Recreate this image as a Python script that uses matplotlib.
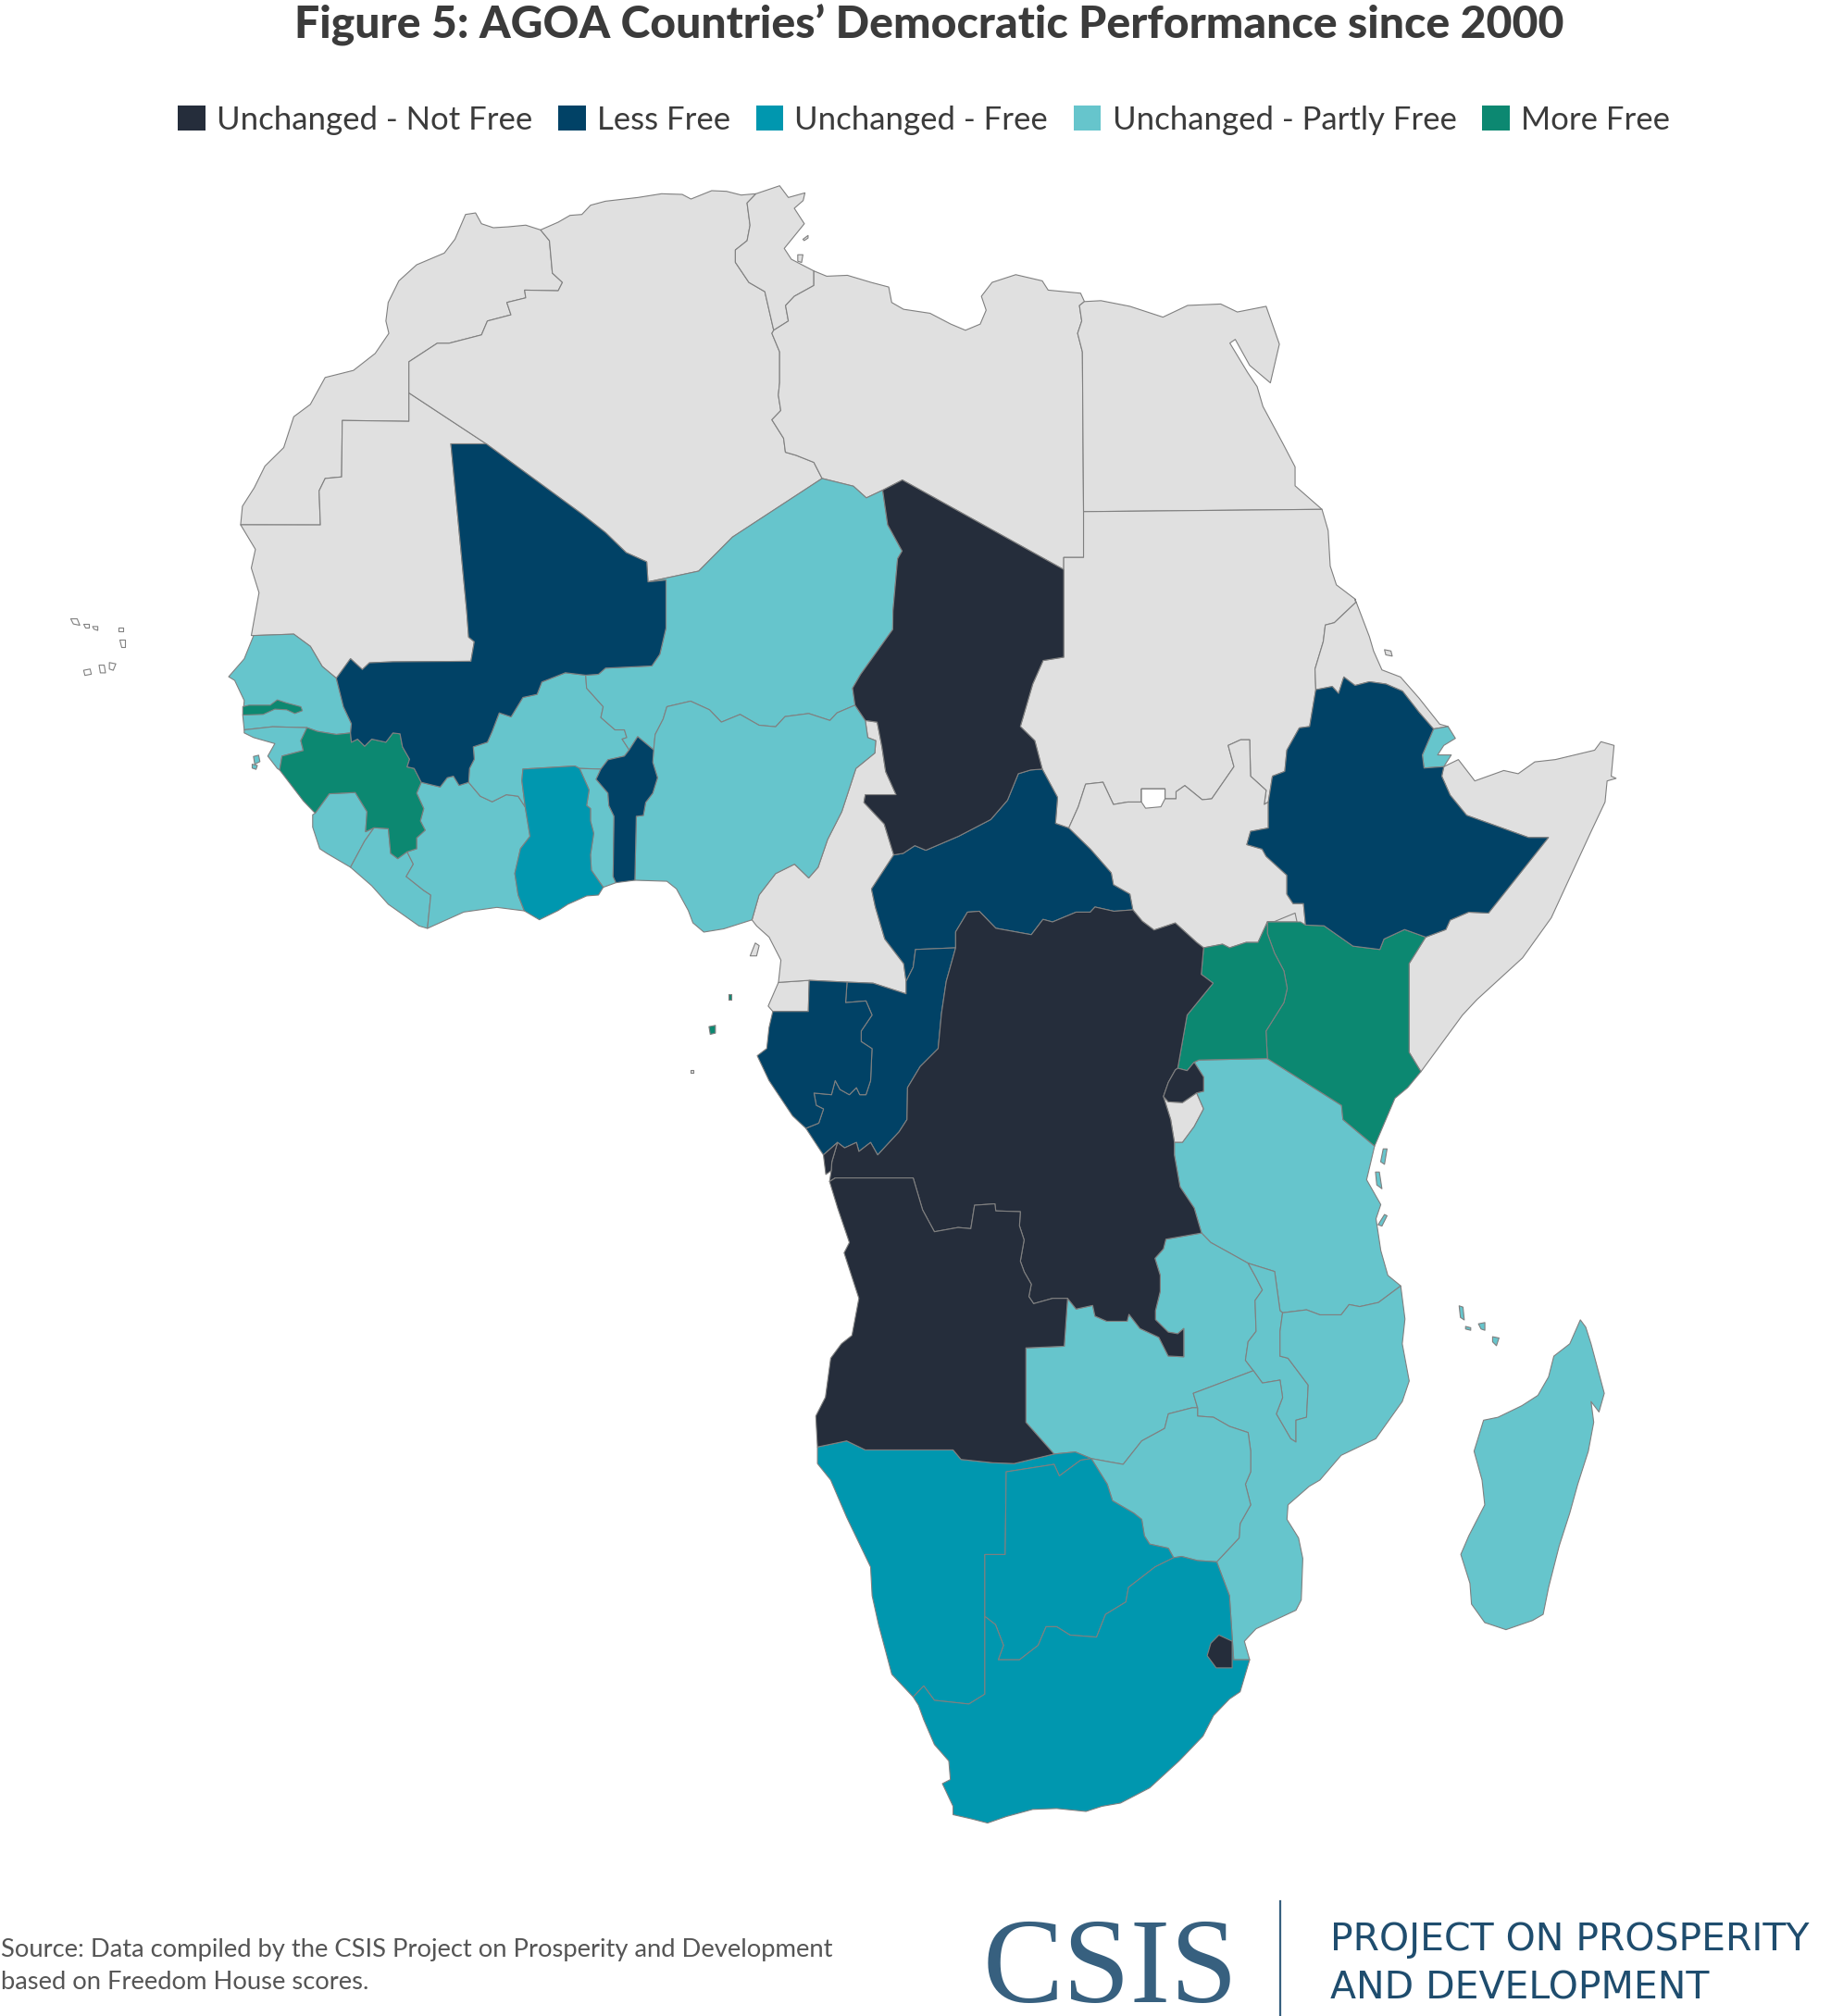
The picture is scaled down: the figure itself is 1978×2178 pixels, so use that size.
"""AGOA countries' democratic performance since 2000, choropleth of Africa."""
import matplotlib

matplotlib.use("Agg")
import matplotlib.pyplot as plt
from matplotlib.patches import Patch

TITLE = "Figure 5: AGOA Countries\u2019 Democratic Performance since 2000"
SOURCE = ["Source: Data compiled by the CSIS Project on Prosperity and Development",
          "based on Freedom House scores."]
LEGEND_LABELS = ["Unchanged - Not Free", "Less Free", "Unchanged - Free",
                 "Unchanged - Partly Free", "More Free"]

NOT_FREE_COLOR = "#252d3b"
LESS_FREE_COLOR = "#014266"
FREE_COLOR = "#0097af"
PARTLY_FREE_COLOR = "#66c5cc"
MORE_FREE_COLOR = "#0c8871"
NON_AGOA_COLOR = "#e0e0e0"
BORDER_COLOR = "#808080"
LOGO_COLOR = "#37607f"

# shared borders, map units
MAU_MALI = [(261.4, 527.2), (272.4, 512), (281.6, 520.4), (287.1, 515.2), (305.4, 514.4), (366, 514),
            (368.6, 498.8), (364.2, 495.2), (362.7, 475), (350.4, 345), (377.9, 345)]
ALG_MALI = [(377.9, 345), (452.2, 399.5), (470.5, 413.9), (486.6, 429.5), (502.6, 436.7), (503.6, 452.3)]
MALI_NIGER = [(503.6, 452.3), (517.6, 450.9), (517.6, 488.1), (512.8, 508.5), (506.6, 517.6), (470.6, 519.3),
              (465.1, 524.1), (455.2, 524.8)]
MALI_BURKINA = [(455.2, 524.8), (439.4, 522.9), (421.1, 530.1), (417.4, 539.7), (406.4, 542.1), (397.2, 557.2),
                (388, 554.1), (382.5, 568.5), (378.8, 576.9), (367.8, 580.5), (368.6, 590.1), (364.9, 597.3),
                (364.2, 608.1)]
MALI_CIV = [(364.2, 608.1), (356.8, 610.5), (352.4, 603.3), (347.6, 604.5), (342.1, 611.7), (327.4, 608.1)]
MALI_GUINEA = [(327.4, 608.1), (321.9, 597.3), (316.4, 596.1), (318.3, 590.1), (312.8, 580.5), (310.9, 570.4),
               (305.4, 569.7), (299.9, 576.9), (288.9, 574.5), (283.4, 580), (277.9, 574.5), (273.1, 576.9),
               (272.4, 569.7)]
MALI_SENEGAL = [(272.4, 569.7), (273.1, 562.5), (266.9, 549.3), (261.4, 527.2)]
SENEGAL_GUINEA = [(272.4, 569.7), (261.4, 570.9), (246.7, 568.5), (238.6, 565.6)]
GUINEA_CIV = [(327.4, 608.1), (323.8, 616.5), (329.3, 628.5), (326.7, 638.1), (330.4, 645.3), (323.8, 651.3),
              (323.8, 659.7), (316.4, 662.1)]
GUINEA_LIBERIA = [(316.4, 662.1), (309.1, 667.4), (303.6, 663.3), (301.8, 644.1), (290.7, 643.4)]
GUINEA_SL = [(290.7, 643.4), (284.1, 646.5), (285.2, 630.9), (276.1, 616), (255.9, 617), (244.9, 632.1)]
GUINEA_GB = [(238.6, 565.6), (233.8, 575.7), (235.7, 583.4), (219.2, 587.7), (217.3, 598.5)]
SL_LIBERIA = [(290.7, 643.4), (283.4, 653.7), (272.4, 674.1)]
LIBERIA_CIV = [(316.4, 662.1), (321.2, 671.7), (315.7, 681.3), (329.3, 692.1), (334.8, 695.7), (332.2, 721.6)]
CIV_BURKINA = [(364.2, 608.1), (373.3, 618.9), (382.5, 623.2), (393.5, 617.7), (402.7, 618.9), (408.2, 627.3)]
CIV_GHANA = [(408.2, 627.3), (411.9, 650.1), (404.5, 659.7), (400.1, 678.9), (402.7, 695.7), (407.5, 708)]
BURKINA_GHANA = [(408.2, 627.3), (405.6, 606.9), (406.4, 597.8), (446.8, 595.4), (450.4, 597.3)]
BURKINA_TOGO = [(450.4, 597.3), (467, 597.8)]
BURKINA_BENIN = [(467, 597.8), (472.5, 590.6), (485.3, 587.7), (489, 582.9)]
BURKINA_NIGER = [(489, 582.9), (483.5, 574.5), (487.1, 573.3), (485.3, 567.3), (478, 567.3), (467, 557.7),
                 (468.8, 549.3), (455.9, 534.9), (455.2, 524.8)]
GHANA_TOGO = [(450.4, 597.3), (457.8, 614), (455.9, 626.1), (458.9, 628.5), (458.9, 638.1), (461.4, 647.7),
              (458.9, 664.5), (459.6, 676.5), (468.8, 689.7)]
TOGO_BENIN = [(467, 597.8), (463.3, 605.7), (472.5, 616.5), (473.2, 626.1), (477.2, 634.5), (476.5, 681.3),
              (478.7, 686.1)]
BENIN_NIGER = [(489, 582.9), (495.6, 572.6), (508, 582.9)]
BENIN_NIGERIA = [(508, 582.9), (507.3, 592.5), (511, 604.5), (507.3, 616.5), (501.8, 623.7), (500, 633.8),
                 (494.5, 634.5), (493.4, 684.2)]
NIGER_NIGERIA = [(508, 582.9), (509.2, 570.9), (515.4, 558.9), (518.3, 549.3), (536.7, 545), (551.4, 551.7),
                 (560.6, 561.3), (575.2, 555.3), (589.9, 563.7), (602.8, 564.9), (610.1, 557), (628.5, 554.6),
                 (645, 560), (650.5, 554.1), (664.5, 548.1)]
NIGER_CHAD = [(664.5, 548.1), (662.6, 534.9), (668.9, 524.1), (683.5, 503.7), (693.8, 489.3), (694, 475),
              (697.6, 434.3), (701.1, 428.3), (689.9, 407.9), (686, 381)]
LIBYA_NIGER = [(686, 381), (673.3, 387), (663.2, 377.9), (638.9, 371.9)]
ALG_NIGER = [(638.9, 371.9), (569.2, 417.5), (543, 443.9), (503.6, 452.3)]
NIGERIA_CAM = [(664.5, 548.1), (672.5, 560), (674.4, 573.3), (680.6, 575.7), (679.9, 585.3), (665.2, 597.3),
               (654.2, 630.9), (643.2, 652.5), (635.8, 674.1), (628.5, 682.4), (617.5, 671.7), (602.8, 679),
               (589.9, 695.7), (584.4, 715)]
CHAD_CAM = [(664.5, 548.1), (672.5, 560), (681.7, 561.3), (685.4, 580.5), (688.3, 599.7), (696.4, 617.7),
            (672.5, 617.7), (671.4, 623.7), (687.2, 640.5), (694.6, 664.5)]
CHAD_CAR = [(694.6, 664.5), (701.9, 663.3), (711, 657.3), (719.5, 660.9), (745, 650), (770, 637), (783, 622),
            (791.4, 601.4), (801, 598.5), (810, 597.8)]
CAM_CAR = [(694.6, 664.5), (677.3, 691), (680.3, 705), (687.6, 729.8), (702.3, 749), (704.2, 762.8)]
CAR_CONGO = [(704.2, 762.8), (709.7, 751.8), (711.5, 738), (742.7, 736.7)]
CAR_DRC = [(742.7, 736.7), (742.7, 724.3), (751.9, 709), (761.1, 708.3), (773.9, 721.5), (801.5, 726.5),
           (810.6, 714.6), (818, 716.6), (836.3, 709), (847.3, 709), (851, 705), (865.7, 708.3), (880.4, 707.2)]
CAR_SSUDAN = [(880.4, 707.2), (878.1, 695), (865.3, 687.7), (863.6, 678.5), (847.6, 660.2), (830.6, 643.6)]
CAR_SUDAN = [(830.6, 643.6), (820.3, 640), (821.9, 619.8), (810, 597.8)]
SUDAN_CHAD = [(810, 597.8), (804.2, 575.7), (793, 564.7), (799.4, 542.7), (802.6, 531.7), (810.7, 513.4),
              (826.7, 510.8), (826.7, 433.3)]
LIBYA_CHAD = [(826.7, 442.7), (701.3, 373.1), (686, 381)]
SUDAN_SSUDAN = [(830.6, 643.6), (838, 627.1), (843.7, 609.5), (857.2, 608), (865.3, 625.3), (876.5, 623.4),
                (887.1, 623.4), (887.1, 613.2), (905.4, 613.2), (905.4, 620.9), (914, 620.9), (914, 615.4),
                (920.8, 610.6), (934.3, 621.6), (941.7, 620.9), (959, 595.9), (954.5, 579.4), (964.2, 575),
                (971.2, 575), (971.9, 603.3), (984, 614.3), (982.5, 625.3), (985.7, 623.4)]
SUDAN_ETH = [(985.7, 623.4), (988.9, 603.3), (998.5, 599.6), (1000.1, 583.1), (1009.8, 565.8), (1017.8, 564.7),
             (1022.6, 536.1)]
SSUDAN_ETH = [(985.7, 623.4), (985.7, 643.6), (971.9, 646.2), (969, 656.5), (980.9, 660), (984, 665.6),
              (1000.1, 680.3), (1000.1, 695), (1004.9, 702.3), (1013, 702.3), (1014.6, 719)]
SSUDAN_DRC = [(880.4, 707.2), (887.7, 716), (896.9, 722.9), (913.4, 717.4), (930, 732.5), (935.4, 736.7)]
UGANDA_SSUDAN = [(935.4, 736.7), (950.1, 733.9), (955.6, 736.7), (968.5, 732.5), (977.7, 732.5), (985, 716.6)]
KENYA_ETH = [(1014.6, 719), (1029, 719.6), (1051.5, 735.4), (1072.4, 738), (1075.6, 729.9), (1091.6, 722.5),
             (1108, 728.4)]
ETH_SOMALIA = [(1108, 728.4), (1123.7, 722.5), (1127, 715.2), (1141.4, 709), (1156.8, 709.7), (1203.4, 651),
               (1188, 651), (1139.8, 633.7), (1127, 618), (1120.5, 603.3), (1122.1, 595.9)]
ERITREA_ETH = [(1022.6, 536.1), (1035.4, 533.6), (1040.3, 539), (1044.4, 526.2), (1053.1, 532.8), (1064.3, 529.9),
               (1077.2, 531.7), (1090, 537.2), (1102.9, 553.7), (1114.1, 566.6)]
ETH_DJIBOUTI = [(1114.1, 566.6), (1105.4, 586.8), (1106.7, 597), (1122.1, 595.9)]
KENYA_UGANDA = [(985, 716.6), (985, 725.6), (990.5, 740.8), (997.8, 754.6), (1000.4, 768.3), (997.8, 779.3),
                (983.9, 801.4), (985, 822.8)]
KENYA_TANZANIA = [(985, 822.8), (1042.6, 859.2), (1043.7, 870.2), (1068.3, 890.8)]
UGANDA_DRC = [(935.4, 736.7), (933.6, 757.3), (942.8, 764.2), (922.6, 789), (915.3, 830.3)]
RWANDA_DRC = [(915.3, 830.3), (913.4, 831.7), (908, 841.3), (904.2, 852.3)]
BURUNDI_DRC = [(904.2, 852.3), (909.8, 870.2), (912.7, 888)]
TANZANIA_DRC = [(912.7, 888), (912.7, 897.7), (917.1, 922.5), (928.1, 939), (933.8, 958.4)]
TANZANIA_ZAMBIA = [(933.8, 958.4), (941, 965.8), (955.5, 973.8), (970, 981.9)]
TANZANIA_MALAWI = [(970, 981.9), (990.6, 988.3), (994.8, 1018.8), (996.8, 1020.4)]
TANZANIA_MOZ = [(996.8, 1020.4), (1015.4, 1018.1), (1025.8, 1022), (1042.3, 1022), (1048.5, 1014), (1056.7, 1015.6),
                (1071.3, 1012.4), (1088.6, 999.5)]
DRC_ZAMBIA = [(933.8, 958.4), (906.1, 963.2), (904.2, 970.7), (897.6, 978.1), (901.7, 991.3), (901.7, 1003.7),
              (898, 1018.8), (898, 1025.7), (907.9, 1035.4), (915.3, 1036.7), (920, 1032.6), (920, 1054.6),
              (907.9, 1054), (900.6, 1039.5), (885.9, 1032.6), (877.4, 1021.6), (876, 1027), (860.2, 1027),
              (851, 1023), (849.2, 1014.7), (836.3, 1017.5), (829.7, 1009.2)]
DRC_ANGOLA = [(829.7, 1009.2), (818, 1009.2), (803.3, 1013.3), (799.6, 1007.8), (801.5, 998.2), (796, 988.6),
              (793, 980.3), (795.9, 963.8), (792.3, 952.8), (793, 941.8), (773.9, 941.2), (773.2, 935.7),
              (757.4, 936.8), (754.5, 955), (744.6, 954.1), (726.2, 957.4), (717, 940.4), (709.7, 915.6),
              (649.1, 915.6), (644.7, 918.4)]
CONGO_DRC = [(646.5, 903), (650.9, 888), (656.4, 892.2), (665.6, 888), (667.5, 895), (676.6, 888), (682.1, 897.7),
             (698.7, 879.8), (704.9, 870.2), (705.3, 845.4), (715.2, 828.9), (729.1, 815), (731.7, 787.6),
             (735.4, 762.8), (742.7, 736.7)]
GABON_CONGO = [(658.3, 763.4), (657.2, 779.3), (673, 778), (677.7, 789), (669.3, 801.4), (669.3, 809.6),
               (677.7, 815.1), (676.6, 839.9), (673, 850.9), (668.2, 850.9), (665.6, 845.4), (660.1, 850.9),
               (652.8, 846.8), (649.1, 839.9), (646.2, 850.9), (632.6, 849.6), (634.4, 859.2), (640, 862),
               (636.3, 873), (626.3, 877)]
CAM_CONGO = [(704.2, 762.8), (704.2, 772.5), (678.5, 764.2), (658.3, 763.4)]
ZAMBIA_MALAWI = [(970, 981.9), (976.2, 993.1), (981.1, 1002.7), (975.4, 1010.8), (976.2, 1034.8), (970, 1042.9),
                 (967.9, 1057.3), (974.1, 1065.4)]
ZAMBIA_MOZ = [(974.1, 1065.4), (927.4, 1083), (930.7, 1094.2)]
ZAMBIA_ZIM = [(930.7, 1094.2), (926.6, 1094.2), (908, 1099), (905.1, 1110.3), (887.3, 1120), (872.9, 1138.2),
              (860.5, 1136), (848.1, 1133.7)]
ZIM_MOZ = [(930.7, 1094.2), (930.7, 1100.7), (943.1, 1101.6), (955.5, 1108.7), (970, 1113.5), (972, 1128),
           (972, 1144), (967.9, 1153.6), (972, 1169.7), (963.8, 1184.2), (963, 1195.4), (945.6, 1214)]
ZIM_BOTSWANA = [(848.1, 1133.7), (860.5, 1153.6), (864.6, 1166.5), (881.1, 1176.1), (887.3, 1181), (889.4, 1193.8),
                (893.5, 1200.2), (908, 1203.4), (912.1, 1210.8)]
ZIM_SA = [(912.1, 1210.8), (918.3, 1209.8), (930.7, 1213), (945.6, 1214)]
MALAWI_MOZ = [(974.1, 1065.4), (981.1, 1075), (994.8, 1072.7), (996.8, 1086.2), (991.9, 1099), (1003.1, 1118.3),
              (1007.2, 1120.9), (1007.2, 1103.9), (1015.4, 1101.6), (1016.7, 1076.6), (1001, 1055.7),
              (994.8, 1054.1), (994.8, 1034.8), (996.8, 1020.4)]
BOTSWANA_SA = [(912.1, 1210.8), (897.7, 1217.9), (877, 1233.9), (875, 1245.2), (859.2, 1254.8), (852.2, 1272.5),
               (831.6, 1270.9), (821.2, 1264.4), (813, 1264.4), (806.8, 1278.9), (792.3, 1290.1), (775.8, 1290.1),
               (779.9, 1278.9), (773.7, 1262.8), (765.4, 1256.4)]
BOTSWANA_NAMIBIA = [(765.4, 1256.4), (765.4, 1208.3), (781.2, 1208.3), (782, 1144), (819.2, 1138.2),
                    (823.3, 1147.2), (839.8, 1135), (848.1, 1133.7)]
NAMIBIA_ANGOLA = [(635.3, 1124.7), (658, 1120), (672.5, 1127), (740.7, 1127), (746.9, 1134.4), (771.6, 1137),
                  (788.2, 1137.6), (819.2, 1130.2)]
NAMIBIA_ZAMBIA = [(819.2, 1130.2), (835.7, 1128.6), (848.1, 1133.7)]
ANGOLA_ZAMBIA = [(819.2, 1130.2), (797.3, 1105.5), (797.3, 1047.7), (827.1, 1046.4), (829.7, 1009.2)]
NAMIBIA_SA = [(765.4, 1256.4), (765.4, 1316.8), (753, 1324.5), (726.2, 1321.6), (717.9, 1310.4), (709.7, 1319)]
SA_MOZ = [(945.6, 1214), (955.5, 1240.3), (957.6, 1272.5), (958.8, 1290.1), (971.2, 1290.1)]
MOROCCO_ALG = [(317.8, 281.2), (339.8, 266.8), (349, 266.8), (374.2, 260.3), (378.8, 249.5), (397.1, 244.7),
               (393.9, 235.1), (408.6, 231.5), (407.7, 225.5), (433.8, 226), (437.1, 219.5), (429.3, 212.3),
               (427, 187.1), (420.1, 178.7)]
ALG_TUNISIA = [(587.5, 150.6), (580.6, 157.8), (582.9, 175.1), (580.6, 187.1), (571.5, 194.3), (571.5, 203.9),
               (582, 219.5), (594.4, 226.7), (601.3, 256.7)]
ALG_LIBYA = [(601.3, 256.7), (599.9, 259.1), (605.9, 273.5), (605.9, 297.5), (604.9, 307.1), (606.8, 319.1),
             (599.9, 326.3), (609, 340.7), (610.4, 351.5), (618.7, 353.9), (632.5, 359.4), (638.9, 371.9)]
TUNISIA_LIBYA = [(632.5, 210.6), (632.5, 221.9), (617.3, 230.3), (610.5, 237.5), (612.7, 249.5), (601.3, 256.7)]
LIBYA_EGYPT = [(842.8, 234.4), (838.9, 237.5), (840.7, 249.5), (837.5, 259.1), (841.2, 273.5), (842.1, 397.7)]
LIBYA_SUDAN = [(842.1, 397.7), (842.1, 433.3), (826.7, 433.3), (826.7, 442.7)]
SUDAN_ERITREA = [(1053.7, 468.2), (1037, 484), (1030, 485.8), (1028.4, 498.7), (1022, 520), (1022.6, 536.1)]

# country outlines, map units
MOROCCO = [(369.6, 165.5), (361.8, 166.7), (353.6, 185.9), (345.3, 196.7), (323.8, 205.8), (310, 218.3),
           (301.7, 235.1), (299.9, 249.5), (302.2, 259.1), (291.6, 274.7), (274.7, 287.9), (252.7, 293.4),
           (241.2, 314.3), (228.3, 323.9), (220.5, 347.9), (205.9, 362.3), (197.6, 379.1), (188.4, 393.5),
           (187, 407.9), (249, 408), (248, 381.5), (252.7, 371.9), (265.5, 370.7), (266, 326.8), (317.8, 327.5)] \
    + MOROCCO_ALG + [(408.6, 175), (394.9, 176.3), (383.4, 177), (374.2, 173.9)]
MAURITANIA = [(187, 407.9), (198.5, 427), (195.3, 441.5), (201.3, 460.7), (195.3, 494), (197.1, 494),
              (228.3, 492.9), (241.2, 502.4), (250.4, 518)] + MAU_MALI \
    + [(317.8, 305.4), (317.8, 327.5), (266, 326.8), (265.5, 370.7), (252.7, 371.9), (248, 381.5), (249, 408)]
ALGERIA = MOROCCO_ALG + [(433.8, 172.7), (443, 167.4), (452.2, 166.7), (459, 159.5), (470.5, 156.4), (495.8, 153.5),
                         (514.1, 150.6), (530.2, 151.1), (537, 154.7), (553.1, 148.2), (564.6, 148.7), (576, 151.6)] \
    + ALG_TUNISIA + ALG_LIBYA + ALG_NIGER + ALG_MALI[::-1] + [(317.8, 305.4)]
TUNISIA = [(587.5, 150.6), (605.9, 144.4), (612.7, 153.5), (625.6, 149.9), (624.2, 155.9), (617.3, 161.9),
           (625.1, 173.9), (609.5, 193.1), (615, 201.5), (624.2, 206.3)] + TUNISIA_LIBYA + ALG_TUNISIA[::-1]
LIBYA = TUNISIA_LIBYA[::-1] + [(642.5, 214.7), (658.6, 214), (677, 219.5), (690.7, 223.1), (693, 235.1),
                               (702.2, 240.4), (722.8, 243.5), (738.9, 251.9), (750.3, 256.7), (761.8, 251.9),
                               (766.4, 241.1), (762.7, 230.3), (771, 219.5), (789.4, 213.5), (810, 218.3),
                               (814.6, 225.5), (839.8, 227.9)] \
    + LIBYA_EGYPT + LIBYA_SUDAN + LIBYA_CHAD + LIBYA_NIGER + ALG_LIBYA[::-1]
EGYPT = [(842.8, 234.4), (855.6, 233.7), (878.1, 238.1), (903.8, 246.5), (923, 237.4), (948.7, 236.3), (961.6, 242.5),
         (984, 238.1), (994.3, 267.5), (987.3, 297.6), (971.2, 284), (960, 263.8), (955.8, 266.7), (969.6, 289.5),
         (977, 300.5), (981.5, 315.9), (996.9, 344.5), (1006.5, 362.9), (1006.5, 377.6), (1027.4, 395.9),
         (842.1, 397.7)] + LIBYA_EGYPT[::-1]
SUDAN = [(842.1, 397.7), (1027.4, 395.9), (1032.2, 412.4), (1033.8, 440), (1038.6, 454.6), (1053.1, 465.6)] \
    + SUDAN_ERITREA + SUDAN_ETH[::-1] + SUDAN_SSUDAN[::-1] + CAR_SUDAN + SUDAN_CHAD + [(842.1, 433.3)]
ABYEI = [(887.1, 613.2), (905.4, 613.2), (905.4, 620.9), (902.2, 627.1), (890.3, 628.2), (887.1, 623.4)]
SOUTH_SUDAN = SUDAN_SSUDAN + SSUDAN_ETH + [(990.5, 716.3), (985, 716.6)] + UGANDA_SSUDAN[::-1] \
    + SSUDAN_DRC[::-1] + CAR_SSUDAN
ILEMI = [(985, 716.6), (990.5, 716.3), (1006.5, 709.7), (1008, 716.6)]
ERITREA = [(1053.1, 465.6), (1064.3, 495), (1067.5, 506), (1074, 520.7), (1088.4, 526.2), (1102.9, 542.7),
           (1118.9, 562.9), (1125.4, 564.7), (1114.1, 566.6)] + ERITREA_ETH[::-1] + SUDAN_ERITREA[::-1]
ETHIOPIA = ERITREA_ETH + ETH_DJIBOUTI + ETH_SOMALIA[::-1] + KENYA_ETH[::-1] + SSUDAN_ETH[::-1] + SUDAN_ETH
DJIBOUTI = [(1114.1, 566.6), (1125.4, 564.7), (1131.1, 573.9), (1122.1, 579.4), (1117.3, 586.8), (1127.9, 586.8),
            (1122.1, 595.9), (1106.7, 597), (1105.4, 586.8)]
SOMALIA = [(1122.1, 595.9), (1133.4, 590.4), (1146.2, 607), (1168.7, 598.9), (1179.9, 601.4), (1192.8, 592.2),
           (1208.8, 590.4), (1239.3, 583.1), (1244.2, 576.5), (1254.4, 579.4), (1252.2, 603.3), (1256, 605),
           (1249, 607), (1247.4, 623.4), (1236.1, 647.3), (1221.7, 678.5), (1205.6, 713.4), (1183.2, 744.6),
           (1147.8, 777), (1136.6, 789), (1104.3, 833), (1095.1, 817.9), (1095.1, 749), (1108, 728.4)] \
    + ETH_SOMALIA
KENYA = [(985, 716.6), (1010.7, 716.6)] + KENYA_ETH + [(1095.1, 749), (1095.1, 817.9), (1104.3, 833), (1094, 845.4),
                                                       (1084.1, 853.7)] \
    + KENYA_TANZANIA[::-1] + KENYA_UGANDA[::-1]
UGANDA = UGANDA_SSUDAN + KENYA_UGANDA + [(931.8, 823.9), (928.1, 825.6), (922.6, 832.2), (915.3, 830.3)] \
    + UGANDA_DRC[::-1]
RWANDA = [(928.1, 825.6), (935.4, 837.1), (935.4, 848.2), (930, 849.5), (919, 857), (907.9, 856.4)] \
    + RWANDA_DRC[::-1] + [(922.6, 832.2)]
BURUNDI = [(907.9, 856.4), (919, 857), (930, 849.5), (935.4, 861.9), (928.1, 875.7), (919, 888)] + BURUNDI_DRC[::-1]
TANZANIA = [(931.8, 823.9)] + KENYA_TANZANIA + [(1062.1, 917), (1073.1, 936.3), (1069.4, 947.3), (1073.1, 972),
                                                (1078.6, 991.3), (1088.6, 999.5)] \
    + TANZANIA_MOZ[::-1] + TANZANIA_MALAWI[::-1] + TANZANIA_ZAMBIA[::-1] + TANZANIA_DRC[::-1] \
    + [(919, 888), (928.1, 875.7), (935.4, 861.9), (930, 849.5), (935.4, 848.2), (935.4, 837.1), (928.1, 825.6)]
DRC = CONGO_DRC + CAR_DRC[1:] + SSUDAN_DRC + UGANDA_DRC + RWANDA_DRC + BURUNDI_DRC + TANZANIA_DRC + DRC_ZAMBIA \
    + DRC_ANGOLA + [(646, 910)]
CABINDA = [(639.9, 897.7), (650.9, 888), (646.5, 903), (646, 910), (641.8, 912.9)]
ANGOLA = DRC_ANGOLA + [(651, 939), (660.1, 965.8), (656, 973.8), (667.5, 1009.2), (662.1, 1038), (653.9, 1044.5),
                       (645.6, 1055.7), (641.5, 1086), (634, 1100.7)] \
    + NAMIBIA_ANGOLA + ANGOLA_ZAMBIA
CONGO = CAM_CONGO + GABON_CONGO + [(639.9, 897.7)] + CONGO_DRC[1:] + CAR_CONGO[::-1]
GABON = [(628.9, 762)] + GABON_CONGO + [(616, 867.4), (597.7, 840), (588.5, 820.6), (595.9, 815), (597.7, 798.6),
                                        (600.6, 786.2), (628.2, 786.2)]
EQ_GUINEA = [(605, 763.6), (628.9, 762), (628.2, 786.2), (600.6, 786.2), (597, 782)]
CAMEROON = CHAD_CAM + CAM_CAR + CAM_CONGO[1:] + [(628.9, 762), (605, 763.6), (606.9, 746.3), (597.7, 728.4),
                                                 (588, 719.7), (584.4, 715)] + NIGERIA_CAM[::-1]
CAR = CAM_CAR + CAR_CONGO[1:] + CAR_DRC[1:] + CAR_SSUDAN + CAR_SUDAN[1:] + CHAD_CAR[::-1]
CHAD = NIGER_CHAD + LIBYA_CHAD[::-1] + SUDAN_CHAD[::-1][1:-1] + CHAD_CAR[::-1] + CHAD_CAM[::-1]
NIGER = ALG_NIGER + MALI_NIGER + BURKINA_NIGER[::-1] + BENIN_NIGER + NIGER_NIGERIA + NIGER_CHAD + LIBYA_NIGER
NIGERIA = NIGER_NIGERIA + NIGERIA_CAM + [(562.4, 722), (547, 724.5), (538.5, 717.3), (534.9, 707.7), (525.7, 690.9),
                                         (518.3, 685)] + BENIN_NIGERIA[::-1]
MALI = MAU_MALI + ALG_MALI + MALI_NIGER + MALI_BURKINA + MALI_CIV + MALI_GUINEA + MALI_SENEGAL
BURKINA = MALI_BURKINA + CIV_BURKINA + BURKINA_GHANA + BURKINA_TOGO + BURKINA_BENIN + BURKINA_NIGER
BENIN = BENIN_NIGER + BENIN_NIGERIA + TOGO_BENIN[::-1] + BURKINA_BENIN
TOGO = GHANA_TOGO + [(478.7, 686.1)] + TOGO_BENIN[::-1] + [(450.4, 597.3)]
GHANA = BURKINA_GHANA + GHANA_TOGO[1:] + [(465.1, 695.7), (455.9, 696.4), (441.3, 702.9), (433.9, 707.7),
                                          (419.2, 714.9)] + CIV_GHANA[::-1]
COTE_DIVOIRE = GUINEA_CIV + LIBERIA_CIV + [(360.5, 708.9), (386.2, 705.3), (407.5, 708)] + CIV_GHANA[::-1] \
    + CIV_BURKINA[::-1] + MALI_CIV
LIBERIA = GUINEA_LIBERIA + SL_LIBERIA + [(288.9, 688.5), (301.8, 702.9), (325.6, 719.7)] + LIBERIA_CIV[::-1]
SIERRA_LEONE = GUINEA_SL + [(243, 633.3), (243, 642.9), (248.5, 659.7), (254, 663.3)] + SL_LIBERIA[::-1]
GUINEA = SENEGAL_GUINEA[::-1] + MALI_GUINEA[::-1] + GUINEA_CIV + GUINEA_LIBERIA + GUINEA_SL \
    + [(235.7, 622.5), (221, 603.3)] + GUINEA_GB[::-1]
GUINEA_BISSAU = [(189.8, 567.3), (211.8, 564.9)] + GUINEA_GB \
    + [(215.5, 597.3), (208.1, 587.7), (213.6, 578), (197.1, 573.3), (189.8, 569.7)]
SENEGAL = [(197.1, 494), (228.3, 492.9), (241.2, 502.4), (250.4, 518)] + MALI_SENEGAL[::-1] + SENEGAL_GUINEA \
    + [(211.8, 564.9), (189.8, 567.3), (188.7, 556.5), (189.8, 544.5), (182.4, 528.9), (177.7, 526), (189.8, 512.1)]
GAMBIA = [(188.7, 549.3), (193.5, 548.1), (210, 548.1), (215.5, 544), (222.8, 546.4), (233.8, 549.3), (235, 552.4),
          (229.1, 554.6), (222.8, 551.7), (213.6, 551.2), (204.5, 555.3), (188.7, 555.8)]
NAMIBIA = NAMIBIA_ANGOLA + NAMIBIA_ZAMBIA + BOTSWANA_NAMIBIA[::-1] + NAMIBIA_SA \
    + [(693.1, 1301.4), (682.8, 1262.8), (677.8, 1240.3), (676.6, 1218), (658, 1179.3), (645.6, 1150.4),
       (635.3, 1137.6)]
BOTSWANA = BOTSWANA_NAMIBIA + ZIM_BOTSWANA + BOTSWANA_SA
ZAMBIA = TANZANIA_ZAMBIA + ZAMBIA_MALAWI + ZAMBIA_MOZ + ZAMBIA_ZIM + NAMIBIA_ZAMBIA[::-1] + ANGOLA_ZAMBIA \
    + DRC_ZAMBIA[::-1]
ZIMBABWE = ZAMBIA_ZIM[::-1] + ZIM_MOZ + ZIM_SA[::-1] + ZIM_BOTSWANA[::-1]
MALAWI = TANZANIA_MALAWI + MALAWI_MOZ[::-1] + ZAMBIA_MALAWI[::-1]
MOZAMBIQUE = TANZANIA_MOZ + [(1091.9, 1025.2), (1089.8, 1044.5), (1095.2, 1073.4), (1089.8, 1089.4), (1069.2, 1118.3),
                             (1042.3, 1131.2), (1025.8, 1150.4), (1017.5, 1155.3), (1001, 1169.7), (1000.2, 1181),
                             (1009.2, 1195.4), (1012.5, 1211.4), (1011.3, 1243.6), (1007.2, 1251.6), (976.2, 1266),
                             (967.1, 1275.7), (971.2, 1290.1)] + SA_MOZ[::-1] + ZIM_MOZ[::-1] + ZAMBIA_MOZ[::-1] \
    + MALAWI_MOZ
SOUTH_AFRICA = BOTSWANA_SA + NAMIBIA_SA + [(713.8, 1325.4), (717.9, 1336.7), (726.2, 1356), (737.4, 1368.8),
                                           (738.6, 1383.2), (732.4, 1386.4), (740.7, 1404), (740.7, 1410.5),
                                           (755.1, 1413.8), (767.5, 1417), (782, 1412), (802.6, 1406.4),
                                           (821.2, 1405.7), (844, 1408), (856.4, 1404), (870.8, 1401.5),
                                           (893.5, 1389.7), (916.3, 1368.8), (934.9, 1349.5), (943.1, 1333.5),
                                           (955.5, 1320.6), (963.8, 1315)] \
    + SA_MOZ[::-1] + ZIM_SA[::-1]
LESOTHO = [(903.9, 1319), (916.3, 1331.9), (912.1, 1341.5), (895.6, 1352), (887.3, 1349.5), (879.1, 1336),
           (889.4, 1325.4)]
ESWATINI = [(947.3, 1270.9), (957.6, 1275.7), (957.6, 1296.4), (945.2, 1296.4), (938.2, 1286.9), (941, 1277.3)]
MADAGASCAR = [(1228.2, 1025.9), (1232.4, 1031.6), (1236.5, 1044.5), (1246.8, 1083), (1242.7, 1097.5),
              (1236.5, 1089.4), (1238.6, 1105.5), (1234.4, 1128), (1226.2, 1153.6), (1220, 1176), (1211.7, 1201.8),
              (1203.5, 1234), (1199.3, 1254.8), (1191, 1259.6), (1170.4, 1266.7), (1153.9, 1261.2), (1143.6, 1246.8),
              (1142.4, 1230.7), (1135.3, 1208.2), (1141.5, 1193.8), (1153.9, 1169.7), (1151.8, 1150.4),
              (1145.6, 1128), (1153, 1103.9), (1164.2, 1101.6), (1182.8, 1092.6), (1195.2, 1084.6), (1203.5, 1070.2),
              (1207.6, 1054.1), (1220, 1044.5)]

# islands
BIOKO = [(587, 733), (590, 735), (588, 743), (583, 743)]
DJERBA = [(620, 198), (624, 198), (623, 204), (620, 203)]
KERKENNAH = [(624, 186), (628, 183), (628, 185), (625, 187)]
DAHLAK = [(1076, 505), (1081, 506), (1082, 510), (1077, 509)]
CAPE_VERDE = [[(55, 481), (60, 481), (62, 486), (57, 485)], [(65, 485), (69, 485), (69, 488), (66, 488)],
              [(72, 487), (76, 487), (76, 490), (73, 489)], [(92, 488), (96, 488), (96, 491), (92, 491)],
              [(93, 497), (97, 497), (97, 503), (94, 503)], [(65, 521), (70, 520), (71, 524), (66, 525)],
              [(77, 517), (81, 517), (82, 523), (78, 523)], [(85, 515), (90, 516), (88, 521), (85, 520)]]
ZANZIBAR = [[(1075, 893), (1078, 893), (1076, 905), (1073, 903)], [(1069, 911), (1072, 911), (1074, 924), (1070, 921)],
            [(1076, 944), (1078, 945), (1074, 953), (1071, 952)]]
COMOROS = [[(1134, 1015), (1137, 1016), (1138, 1026), (1135, 1024)], [(1139, 1031), (1143, 1032), (1143, 1034),
                                                                      (1139, 1033)],
           [(1149, 1029), (1154, 1028), (1154, 1034), (1151, 1033)], [(1160, 1039), (1165, 1040), (1163, 1046),
                                                                      (1160, 1043)]]
BIJAGOS = [[(197, 588), (201, 587), (202, 592), (198, 594)], [(196, 594), (200, 595), (199, 598), (196, 597)]]
SAO_TOME = [[(551, 798), (556, 797), (556, 803), (552, 804)], [(566, 773), (568, 773), (568, 777), (566, 777)]]
ANNOBON = [(537, 832), (539, 832), (539, 834), (537, 834)]

NOT_FREE = [CHAD, DRC, CABINDA, ANGOLA, RWANDA, ESWATINI]
LESS_FREE = [MALI, BENIN, CAR, CONGO, GABON, ETHIOPIA]
FREE = [GHANA, NAMIBIA, BOTSWANA, SOUTH_AFRICA]
PARTLY_FREE = [SENEGAL, GUINEA_BISSAU, SIERRA_LEONE, LIBERIA, COTE_DIVOIRE, BURKINA, TOGO, NIGER, NIGERIA, DJIBOUTI,
               TANZANIA, ZAMBIA, MALAWI, MOZAMBIQUE, ZIMBABWE, MADAGASCAR, LESOTHO] + ZANZIBAR + COMOROS + BIJAGOS
MORE_FREE = [GAMBIA, GUINEA, KENYA, UGANDA] + SAO_TOME
NON_AGOA = [MOROCCO, MAURITANIA, ALGERIA, TUNISIA, LIBYA, EGYPT, SUDAN, SOUTH_SUDAN, ILEMI, ERITREA, SOMALIA, BURUNDI,
            EQ_GUINEA, CAMEROON, BIOKO, DJERBA, KERKENNAH, DAHLAK, ANNOBON]


def draw_group(ax, outlines, color):
    for outline in outlines:
        xs, ys = zip(*outline)
        ax.fill(xs, ys, facecolor=color, edgecolor=BORDER_COLOR, linewidth=0.8, joinstyle="round")


fig = plt.figure(figsize=(19.78, 21.78), dpi=100, facecolor="white")
ax = fig.add_axes([0, 0, 1, 1])
ax.set_xlim(0, 1423)
ax.set_ylim(1567, 0)
ax.axis("off")

draw_group(ax, NON_AGOA, NON_AGOA_COLOR)
draw_group(ax, [ABYEI] + CAPE_VERDE, "white")
draw_group(ax, PARTLY_FREE, PARTLY_FREE_COLOR)
draw_group(ax, FREE, FREE_COLOR)
draw_group(ax, MORE_FREE, MORE_FREE_COLOR)
draw_group(ax, LESS_FREE, LESS_FREE_COLOR)
draw_group(ax, NOT_FREE, NOT_FREE_COLOR)

font = ["Lato", "DejaVu Sans"]
ax.text(722, 30, TITLE, ha="center", va="baseline", fontsize=34.7, fontweight="black", color="#3b3b3b", family=font)

colors = [NOT_FREE_COLOR, LESS_FREE_COLOR, FREE_COLOR, PARTLY_FREE_COLOR, MORE_FREE_COLOR]
handles = [Patch(facecolor=c, edgecolor="none") for c in colors]
fig.legend(handles, LEGEND_LABELS, loc="center", bbox_to_anchor=(0.5046, 0.9405), ncol=5, frameon=False,
           labelcolor="#3b3b3b", prop={"family": font, "size": 25}, handlelength=0.85, handleheight=0.85,
           handletextpad=0.35, columnspacing=0.8)

for y, line in zip([1521, 1546], SOURCE):
    ax.text(1, y, line, ha="left", va="baseline", fontsize=19.7, color="#555555", family=font)

ax.text(863, 1556, "CSIS", ha="center", va="baseline", fontsize=94, color=LOGO_COLOR,
        family=["Liberation Serif", "DejaVu Serif"])
ax.plot([995, 995], [1478, 1567], color=LOGO_COLOR, linewidth=1.6)
ax.text(1034, 1516, "PROJECT ON PROSPERITY", ha="left", va="baseline", fontsize=29.5, color="#1f4d6e",
        family="DejaVu Sans")
ax.text(1034, 1554, "AND DEVELOPMENT", ha="left", va="baseline", fontsize=29.5, color="#1f4d6e",
        family="DejaVu Sans")

fig.savefig("out.png", dpi=100)
